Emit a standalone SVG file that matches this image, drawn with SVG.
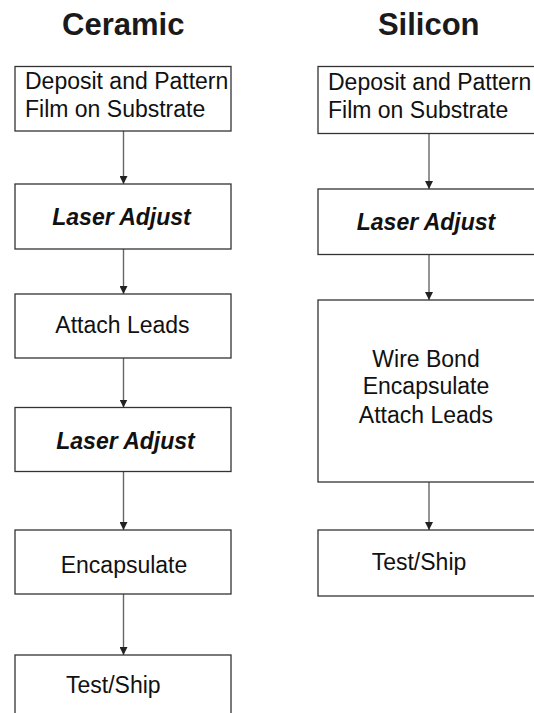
<svg xmlns="http://www.w3.org/2000/svg" width="534" height="713" viewBox="0 0 534 713">
  <defs>
    <style>
      .box { fill: #ffffff; stroke: #333333; stroke-width: 1.3; }
      .wire { fill: none; stroke: #666666; stroke-width: 1.4; }
      .title { font-family: "Liberation Sans", Arial, sans-serif; font-weight: bold; font-size: 31px; fill: #1a1a1a; text-anchor: middle; }
      .label { font-family: "Liberation Sans", Arial, sans-serif; font-size: 23px; fill: #111111; }
      .mid { text-anchor: middle; }
      .emph { font-weight: bold; font-style: italic; }
    </style>
    <marker id="head" markerWidth="8" markerHeight="8" refX="8" refY="4" orient="auto" markerUnits="userSpaceOnUse">
      <path d="M0,0 L8,4 L0,8 Z" fill="#222222"/>
    </marker>
  </defs>
  <rect width="534" height="713" fill="#ffffff"/>

  <!-- column headings -->
  <text class="title" x="123.3" y="35">Ceramic</text>
  <text class="title" x="428.7" y="35">Silicon</text>

  <!-- connectors -->
  <g id="connectors">
    <line class="wire" x1="123.5" y1="131" x2="123.5" y2="184" marker-end="url(#head)"/>
    <line class="wire" x1="123.5" y1="249" x2="123.5" y2="294" marker-end="url(#head)"/>
    <line class="wire" x1="123.5" y1="358" x2="123.5" y2="407.5" marker-end="url(#head)"/>
    <line class="wire" x1="123.5" y1="471.5" x2="123.5" y2="530" marker-end="url(#head)"/>
    <line class="wire" x1="123.5" y1="594" x2="123.5" y2="655" marker-end="url(#head)"/>
    <line class="wire" x1="429" y1="133.5" x2="429" y2="189" marker-end="url(#head)"/>
    <line class="wire" x1="429" y1="254.5" x2="429" y2="300" marker-end="url(#head)"/>
    <line class="wire" x1="429" y1="482" x2="429" y2="530" marker-end="url(#head)"/>
  </g>

  <!-- ceramic flow -->
  <g id="c-deposit">
    <rect class="box" x="15" y="66.5" width="216" height="64.5"/>
    <text class="label" x="25" y="89.3">Deposit and Pattern</text>
    <text class="label" x="25" y="116.7">Film on Substrate</text>
  </g>
  <g id="c-laser1">
    <rect class="box" x="15" y="184" width="216" height="65"/>
    <text class="label mid emph" x="121.5" y="225">Laser Adjust</text>
  </g>
  <g id="c-leads">
    <rect class="box" x="15" y="294" width="216" height="64"/>
    <text class="label mid" x="122.5" y="333.3">Attach Leads</text>
  </g>
  <g id="c-laser2">
    <rect class="box" x="15" y="407.5" width="216" height="64"/>
    <text class="label mid emph" x="125.5" y="448.5">Laser Adjust</text>
  </g>
  <g id="c-encap">
    <rect class="box" x="15" y="530" width="216" height="64"/>
    <text class="label mid" x="124" y="573.3">Encapsulate</text>
  </g>
  <g id="c-test">
    <rect class="box" x="15" y="655" width="216" height="70"/>
    <text class="label mid" x="113.3" y="693.3">Test/Ship</text>
  </g>

  <!-- silicon flow -->
  <g id="s-deposit">
    <rect class="box" x="318" y="66.5" width="230" height="67"/>
    <text class="label" x="328" y="90">Deposit and Pattern</text>
    <text class="label" x="328" y="118.3">Film on Substrate</text>
  </g>
  <g id="s-laser">
    <rect class="box" x="318" y="189" width="230" height="65.5"/>
    <text class="label mid emph" x="426" y="230">Laser Adjust</text>
  </g>
  <g id="s-bond">
    <rect class="box" x="318" y="300" width="230" height="182"/>
    <text class="label mid" x="426" y="366.7">Wire Bond</text>
    <text class="label mid" x="426" y="394.3">Encapsulate</text>
    <text class="label mid" x="426" y="422.7">Attach Leads</text>
  </g>
  <g id="s-test">
    <rect class="box" x="318" y="530" width="230" height="66"/>
    <text class="label mid" x="419" y="570">Test/Ship</text>
  </g>
</svg>
